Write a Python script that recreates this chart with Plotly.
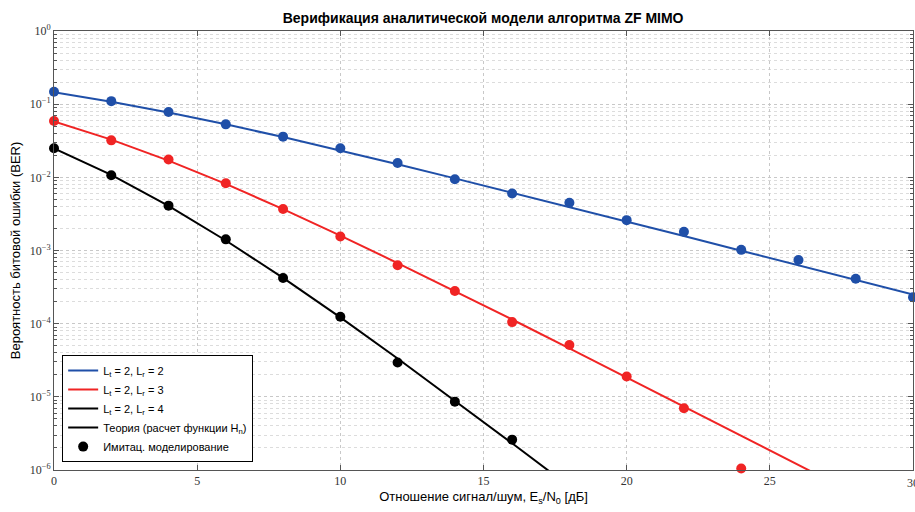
import plotly.graph_objects as go

snr_db = [0, 2, 4, 6, 8, 10, 12, 14, 16, 18, 20, 22, 24, 26, 28, 30]

# Theory curves
theory_22 = [0.146, 0.108, 0.0771, 0.0530, 0.0355, 0.0233, 0.0151, 0.00967, 0.00617,
             0.00392, 0.00248, 0.00158, 0.000993, 0.000627, 0.000396, 0.00025]
theory_23 = [0.0581, 0.0328, 0.0169, 0.00813, 0.00368, 0.0016, 0.000674, 0.000278,
             0.000114, 4.59e-5, 1.84e-5, 7.48e-6, 2.95e-6, 1.18e-6, 4.7e-7, 1.87e-7]
theory_24 = [0.0249, 0.0108, 0.00408, 0.00137, 0.000422, 0.000122, 3.34e-5, 8.9e-6,
             2.32e-6, 5.97e-7]
snr_24 = snr_db[:len(theory_24)]

# Simulation points
sim_22 = [0.148, 0.110, 0.078, 0.053, 0.036, 0.025, 0.0157, 0.0094, 0.006,
          0.0045, 0.0026, 0.0018, 0.00102, 0.00074, 0.00041, 0.00023]
sim_23 = [0.059, 0.032, 0.0175, 0.0083, 0.0037, 0.00155, 0.00063, 0.00028,
          0.000105, 5.1e-5, 1.9e-5, 7.0e-6, 1.05e-6]
snr_23s = snr_db[:len(sim_23)]
sim_24 = [0.025, 0.0107, 0.0041, 0.00142, 0.00042, 0.000124, 2.95e-5, 8.6e-6, 2.6e-6]
snr_24s = snr_db[:len(sim_24)]

names = ["L<sub>t</sub> = 2, L<sub>r</sub> = 2",
         "L<sub>t</sub> = 2, L<sub>r</sub> = 3",
         "L<sub>t</sub> = 2, L<sub>r</sub> = 4"]
colors = ["#1f4fa8", "#f02424", "#000000"]

x_ticks = [0, 5, 10, 15, 20, 25, 30]
y_tickvals = [1, 1e-1, 1e-2, 1e-3, 1e-4, 1e-5, 1e-6]
y_ticktext = ["10<sup>0</sup>", "10<sup>−1</sup>", "10<sup>−2</sup>", "10<sup>−3</sup>",
              "10<sup>−4</sup>", "10<sup>−5</sup>", "10<sup>−6</sup>"]

fig = go.Figure()

theory = [(snr_db, theory_22), (snr_db, theory_23), (snr_24, theory_24)]
sims = [(snr_db, sim_22), (snr_23s, sim_23), (snr_24s, sim_24)]

for (tx, ty), c in zip(theory, colors):
    fig.add_trace(go.Scatter(x=tx, y=ty, mode="lines", line=dict(color=c, width=2),
                             showlegend=False, cliponaxis=True, hoverinfo="skip"))
for (sx, sy), c in zip(sims, colors):
    fig.add_trace(go.Scatter(x=sx, y=sy, mode="markers",
                             marker=dict(color=c, size=10),
                             showlegend=False, cliponaxis=False))

# Legend entries
for n, c in zip(names, colors):
    fig.add_trace(go.Scatter(x=[None], y=[None], mode="lines",
                             line=dict(color=c, width=2), name=n))
fig.add_trace(go.Scatter(x=[None], y=[None], mode="lines",
                         line=dict(color="black", width=2),
                         name="Теория (расчет функции H<sub>n</sub>)"))
fig.add_trace(go.Scatter(x=[None], y=[None], mode="markers",
                         marker=dict(color="black", size=10),
                         name="Имитац. моделирование"))

tick_font = dict(family="Liberation Serif, DejaVu Serif, serif", size=12, color="#333")

fig.update_layout(
    width=915, height=512,
    margin=dict(l=54, r=2, t=31, b=42),
    paper_bgcolor="white", plot_bgcolor="white",
    font=dict(family="Liberation Sans, Arial, sans-serif", color="black"),
    title=dict(text="<b>Верификация аналитической модели алгоритма ZF MIMO</b>",
               x=0.528, xanchor="center", y=0.965, yanchor="middle",
               font=dict(size=14, color="black")),
    legend=dict(x=0.0095, y=0.018, xanchor="left", yanchor="bottom",
                bgcolor="white", bordercolor="black", borderwidth=1,
                font=dict(size=11, color="black"), tracegroupgap=0,
                itemwidth=30),
    showlegend=True,
)

fig.update_xaxes(
    range=[0, 30], tickvals=x_ticks, ticks="inside", ticklen=5,
    tickcolor="#555", showline=True, linecolor="#555", linewidth=1, mirror="allticks",
    showgrid=True, gridcolor="#c8c8c8", griddash="dot", gridwidth=1,
    zeroline=False, tickfont=tick_font,
    title=dict(text="Отношение сигнал/шум, E<sub>s</sub>/N<sub>0</sub> [дБ]",
               font=dict(size=13, color="black"), standoff=4),
)
fig.update_yaxes(
    type="log", range=[-6, 0], tickvals=y_tickvals, ticktext=y_ticktext,
    ticks="inside", ticklen=5, tickcolor="#555",
    showline=True, linecolor="#555", linewidth=1, mirror="allticks",
    showgrid=True, gridcolor="#c8c8c8", griddash="dot", gridwidth=1,
    zeroline=False, tickfont=tick_font,
    minor=dict(dtick="D1", showgrid=True, gridcolor="#dcdcdc", griddash="dot",
               ticks="inside", ticklen=3, tickcolor="#555"),
    title=dict(text="Вероятность битовой ошибки (BER)",
               font=dict(size=13, color="black"), standoff=6),
)

# Last x tick label (cut by the page edge in the reference)
fig.add_annotation(x=x_ticks[-1], xref="x", y=0, yref="paper", yshift=-4,
                   text=str(x_ticks[-1]), showarrow=False, xanchor="center",
                   yanchor="top", font=tick_font)

fig.write_html("out.html")
